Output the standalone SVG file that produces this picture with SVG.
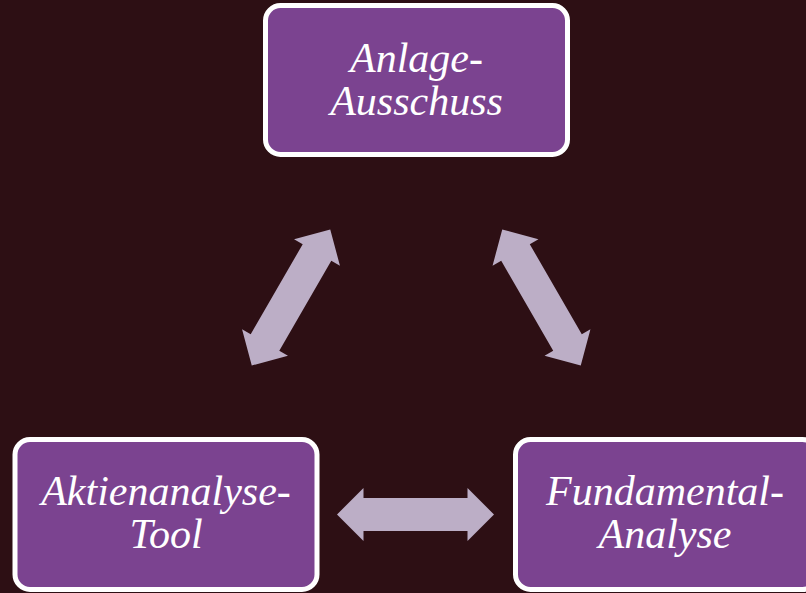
<svg xmlns="http://www.w3.org/2000/svg" width="806" height="593" viewBox="0 0 806 593">
<defs>
<style>
.box{fill:#7B4390;stroke:#FFFFFF;stroke-width:5}
.lbl{font-family:"Liberation Serif","Times New Roman",serif;font-style:italic;font-size:42px;fill:#FFFFFF;text-anchor:middle}
.arr{fill:#BCAEC6}
</style>
<polygon id="dbl" points="-78.5,0 -52,-26.5 -52,-16.5 52,-16.5 52,-26.5 78.5,0 52,26.5 52,16.5 -52,16.5 -52,26.5"/>
</defs>
<rect width="806" height="593" fill="#2D0F14"/>
<g id="connectors" class="arr">
<use href="#dbl" transform="translate(291,297.5) rotate(-60)"/>
<use href="#dbl" transform="translate(541.5,297.5) rotate(60)"/>
<use href="#dbl" transform="translate(415.5,514.5)"/>
</g>
<g id="node-anlage">
<rect class="box" x="265.5" y="5.5" width="302" height="149" rx="15"/>
<text class="lbl" x="416.5" y="72">Anlage-</text>
<text class="lbl" x="416.5" y="115">Ausschuss</text>
</g>
<g id="node-aktien">
<rect class="box" x="15" y="439.5" width="302" height="150" rx="15"/>
<text class="lbl" x="166" y="505">Aktienanalyse-</text>
<text class="lbl" x="166" y="548">Tool</text>
</g>
<g id="node-fundamental">
<rect class="box" x="515.5" y="439.5" width="302" height="150" rx="15"/>
<text class="lbl" x="665" y="505">Fundamental-</text>
<text class="lbl" x="665" y="548">Analyse</text>
</g>
</svg>
